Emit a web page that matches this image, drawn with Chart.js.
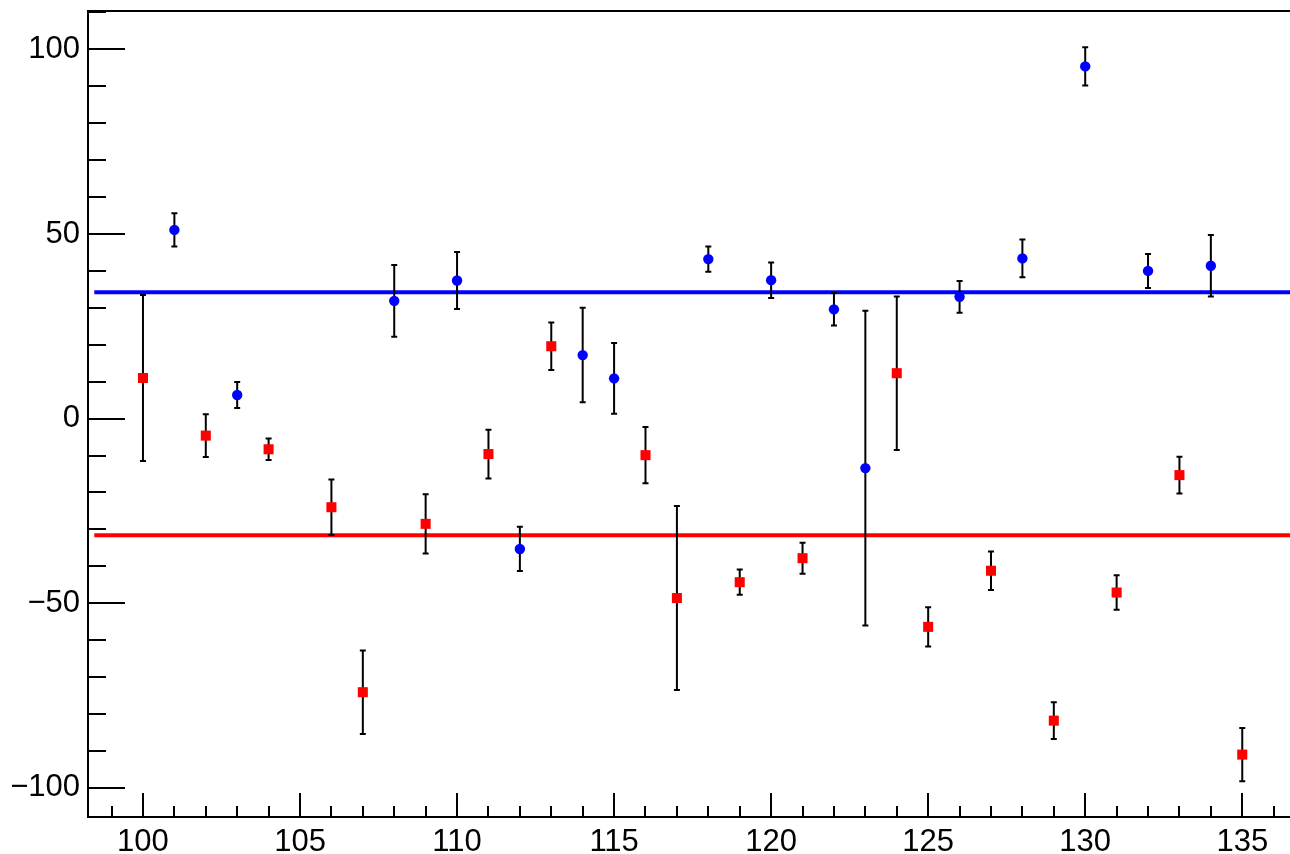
<!DOCTYPE html>
<html>
<head>
<meta charset="utf-8">
<script src="https://cdn.jsdelivr.net/npm/chart.js@4.4.1/dist/chart.umd.min.js"></script>
<style>
  html, body { margin: 0; padding: 0; background: #fff; }
  #wrap { width: 1290px; height: 854px; }
</style>
</head>
<body>
<div id="wrap"><canvas id="c" width="1290" height="854"></canvas></div>
<script>
// ===== data
const blueX   = [101, 103, 108, 110, 112, 114, 115, 118, 120, 122, 123, 126, 128, 130, 132, 134];
const blueY   = [51.1, 6.4, 31.9, 37.4, -35.3, 17.2, 10.9, 43.2, 37.5, 29.6, -13.4, 33.0, 43.4, 95.4, 40.0, 41.4];
const blueErr = [4.5, 3.5, 9.7, 7.7, 6.0, 12.8, 9.6, 3.4, 4.8, 4.4, 42.6, 4.3, 5.1, 5.2, 4.6, 8.3];

const redX   = [100, 102, 104, 106, 107, 109, 111, 113, 116, 117, 119, 121, 124, 125, 127, 129, 131, 133, 135];
const redY   = [11.0, -4.6, -8.3, -24.0, -74.1, -28.5, -9.6, 19.6, -9.9, -48.6, -44.3, -37.8, 12.3, -56.4, -41.2, -81.8, -47.1, -15.3, -91.0];
const redErr = [22.5, 5.8, 2.9, 7.5, 11.3, 8.0, 6.6, 6.4, 7.6, 24.9, 3.4, 4.2, 20.8, 5.3, 5.2, 5.0, 4.7, 5.0, 7.2];

const blueLevel = 34.2;
const redLevel  = -31.6;
const levelX    = [98.45, 137];

const xTickLabels = [100, 105, 110, 115, 120, 125, 130, 135];
const yTickLabels = [-100, -50, 0, 50, 100];
const xMinorStep = 1;
const yMinorStep = 10;

const X_MIN = 98.25, X_MAX = 136.52;
const Y_MIN = -107.9, Y_MAX = 110.4;

// ===== helpers
const pts = (xs, ys) => xs.map((x, i) => ({ x, y: ys[i] }));
const fmt = v => (v < 0 ? '\u2212' + Math.abs(v) : String(v));
const noPad = s => { s.paddingTop = 0; s.paddingBottom = 0; s.paddingLeft = 0; s.paddingRight = 0; };

// error bars go under the markers but over the level lines
const errorBars = {
  id: 'errorBars',
  beforeDatasetDraw(chart, args) {
    const ds = chart.data.datasets[args.index];
    if (!ds.errors) return;
    const xs = chart.scales.x, ys = chart.scales.y;
    const ctx = chart.ctx;
    const a = chart.chartArea;
    ctx.save();
    ctx.beginPath();
    ctx.rect(a.left, a.top, a.right - a.left, a.bottom - a.top);
    ctx.clip();
    ctx.strokeStyle = '#000';
    ctx.lineWidth = 2;
    ds.data.forEach((p, i) => {
      const e = ds.errors[i];
      const px = xs.getPixelForValue(p.x);
      const top = ys.getPixelForValue(p.y + e);
      const bot = ys.getPixelForValue(p.y - e);
      ctx.beginPath();
      ctx.moveTo(px, top); ctx.lineTo(px, bot);
      ctx.moveTo(px - 3, top); ctx.lineTo(px + 3, top);
      ctx.moveTo(px - 3, bot); ctx.lineTo(px + 3, bot);
      ctx.stroke();
    });
    ctx.restore();
  }
};

// ROOT-like frame with inward ticks (right edge sits off the canvas)
const frame = {
  id: 'frame',
  afterDraw(chart) {
    const { ctx, chartArea: a } = chart;
    const xs = chart.scales.x, ys = chart.scales.y;
    ctx.save();
    ctx.strokeStyle = '#000';
    ctx.lineWidth = 2;
    ctx.beginPath();
    ctx.moveTo(a.right + 2, a.top); ctx.lineTo(a.left, a.top);
    ctx.lineTo(a.left, a.bottom); ctx.lineTo(a.right + 2, a.bottom);
    ctx.stroke();
    ctx.beginPath();
    for (let v = Math.ceil(Y_MIN / yMinorStep) * yMinorStep; v <= Y_MAX; v += yMinorStep) {
      const py = Math.round(ys.getPixelForValue(v));
      const len = yTickLabels.includes(v) ? 37 : 18;
      ctx.moveTo(a.left, py); ctx.lineTo(a.left + len, py);
    }
    for (let v = Math.ceil(X_MIN / xMinorStep) * xMinorStep; v <= X_MAX; v += xMinorStep) {
      const px = Math.round(xs.getPixelForValue(v));
      const len = xTickLabels.includes(v) ? 24 : 11;
      ctx.moveTo(px, a.bottom); ctx.lineTo(px, a.bottom - len);
    }
    ctx.stroke();
    ctx.restore();
  }
};

const font = { family: '"Liberation Sans", Arial, sans-serif', size: 31 };

new Chart(document.getElementById('c'), {
  type: 'scatter',
  data: {
    datasets: [
      {
        type: 'line', data: levelX.map(x => ({ x, y: blueLevel })),
        borderColor: '#0000ff', borderWidth: 4, pointRadius: 0, order: 3
      },
      {
        type: 'line', data: levelX.map(x => ({ x, y: redLevel })),
        borderColor: '#ff0000', borderWidth: 4, pointRadius: 0, order: 3
      },
      {
        data: pts(blueX, blueY), errors: blueErr,
        pointStyle: 'circle', pointRadius: 5.2, pointHoverRadius: 5.2,
        backgroundColor: '#0000ff', borderWidth: 0, order: 1
      },
      {
        data: pts(redX, redY), errors: redErr,
        pointStyle: 'rect', pointRadius: 7.1, pointHoverRadius: 7.1,
        backgroundColor: '#ff0000', borderWidth: 0, order: 2
      }
    ]
  },
  options: {
    responsive: false,
    animation: false,
    events: [],
    layout: { autoPadding: false, padding: { left: 0, top: 11, right: 0, bottom: 0 } },
    plugins: { legend: { display: false }, tooltip: { enabled: false } },
    scales: {
      x: {
        type: 'linear', min: X_MIN, max: X_MAX,
        grid: { display: false, drawTicks: false },
        border: { display: false },
        afterBuildTicks: s => { s.ticks = xTickLabels.map(value => ({ value })); },
        afterFit: s => { s.height = 37; noPad(s); },
        ticks: { color: '#000', font, padding: 7, maxRotation: 0, autoSkip: false, callback: v => fmt(v) }
      },
      y: {
        type: 'linear', min: Y_MIN, max: Y_MAX,
        grid: { display: false, drawTicks: false },
        border: { display: false },
        afterBuildTicks: s => { s.ticks = yTickLabels.map(value => ({ value })); },
        afterFit: s => { s.width = 88; noPad(s); },
        ticks: { color: '#000', font, padding: 8, autoSkip: false, callback: v => fmt(v) }
      }
    }
  },
  plugins: [errorBars, frame]
});
</script>
</body>
</html>
